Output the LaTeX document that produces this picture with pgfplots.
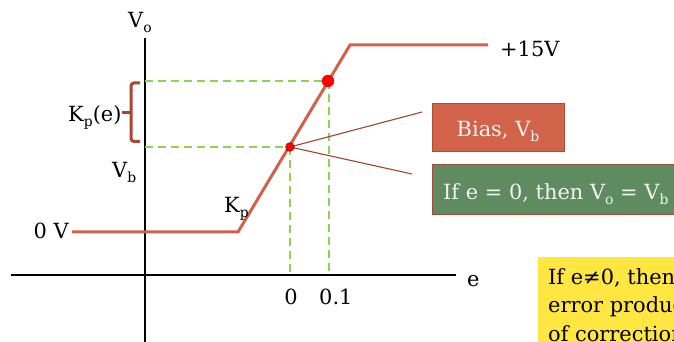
\documentclass[border=0pt]{standalone}
\usepackage{pgfplots}
\pgfplotsset{compat=1.18}
\usepackage{fontspec}
\setmainfont{DejaVu Serif}
\newcommand{\sub}[1]{\raisebox{-0.45ex}{\fontsize{14}{14}\selectfont #1}}
\definecolor{curvec}{RGB}{208,98,74}
\definecolor{biasfill}{RGB}{209,99,74}
\definecolor{biasedge}{RGB}{180,75,55}
\definecolor{greenfill}{RGB}{95,139,96}
\definecolor{greenedge}{RGB}{165,72,52}
\definecolor{yellowfill}{RGB}{255,230,64}
\definecolor{bracec}{RGB}{170,70,48}
\definecolor{dashc}{RGB}{146,208,80}
\definecolor{leaderc}{RGB}{160,68,46}
\begin{document}
\begin{tikzpicture}
\useasboundingbox (0,0) rectangle (674bp,342bp);
\clip (0,0) rectangle (674bp,342bp);
\begin{axis}[at={(0,0)}, anchor=south west, scale only axis,
  width=674bp, height=342bp, xmin=0, xmax=674, ymin=0, ymax=342,
  hide axis, clip=false, font=\fontsize{21}{25}\selectfont]
% boxes
\draw[fill=yellowfill, draw=none] (axis cs:538,85) rectangle (axis cs:700,-5);
\draw[fill=biasfill, draw=biasedge, line width=1bp] (axis cs:432,238) rectangle (axis cs:564,190);
\draw[fill=greenfill, draw=greenedge, line width=1bp] (axis cs:432,177) rectangle (axis cs:700,127);
% axes
\addplot[black, line width=2.6bp] coordinates {(11,67) (456,67)};
\addplot[black, line width=2.6bp] coordinates {(145,304) (145,-5)};
% green dashed guides
\addplot[dashc, line width=1.8bp, dash pattern=on 8bp off 5bp] coordinates {(145,261) (328,261)};
\addplot[dashc, line width=1.8bp, dash pattern=on 8bp off 5bp] coordinates {(145,195) (290,195)};
\addplot[dashc, line width=1.8bp, dash pattern=on 8bp off 5bp] coordinates {(290,195) (290,67)};
\addplot[dashc, line width=1.8bp, dash pattern=on 8bp off 5bp] coordinates {(329,261) (329,67)};
% leader lines
\addplot[leaderc, line width=1.1bp] coordinates {(290,195) (422,230)};
\addplot[leaderc, line width=1.1bp] coordinates {(290,195) (412,168)};
% transfer curve
\addplot[curvec, line width=3bp] coordinates {(72,110) (238,110) (350,297) (488,297)};
% points
\addplot[only marks, mark=*, mark size=6bp, red, mark options={draw=red, fill=red}] coordinates {(328,261)};
\addplot[only marks, mark=*, mark size=4.5bp, mark options={fill=red, draw=black, densely dotted, line width=0.6bp}] coordinates {(290,195)};
% brace
\draw[bracec, line width=3bp, rounded corners=3bp] (axis cs:140,259) -- (axis cs:131,259) -- (axis cs:131,200.5) -- (axis cs:140,200.5);
\draw[bracec, line width=3bp] (axis cs:131,229.5) -- (axis cs:122,229.5);
% labels
\node[anchor=base west, inner sep=0] at (axis cs:128,314) {V\sub{o}};
\node[anchor=base west, inner sep=0] at (axis cs:68,220) {K\sub{p}(e)};
\node[anchor=base west, inner sep=0] at (axis cs:112,164) {V\sub{b}};
\node[anchor=base west, inner sep=0] at (axis cs:224,129) {K\sub{p}};
\node[anchor=base east, inner sep=0] at (axis cs:69,103) {0 V};
\node[anchor=base, inner sep=0] at (axis cs:291,37) {0};
\node[anchor=base west, inner sep=0] at (axis cs:319,37) {0.1};
\node[anchor=base west, inner sep=0] at (axis cs:467,55) {e};
\node[anchor=base west, inner sep=0] at (axis cs:500,285) {+15V};
\node[anchor=base, inner sep=0, text=white!95!black] at (axis cs:498,205) {Bias, V\sub{b}};
\node[anchor=base west, inner sep=0, text=white!95!black] at (axis cs:443,142) {If e = 0, then V\sub{o} = V\sub{b}};
\node[anchor=base west, inner sep=0] at (axis cs:548,57) {If e≠0, then the};
\node[anchor=base west, inner sep=0] at (axis cs:548,29) {error produces};
\node[anchor=base west, inner sep=0] at (axis cs:548,1) {of correction};
\end{axis}
\end{tikzpicture}
\end{document}
